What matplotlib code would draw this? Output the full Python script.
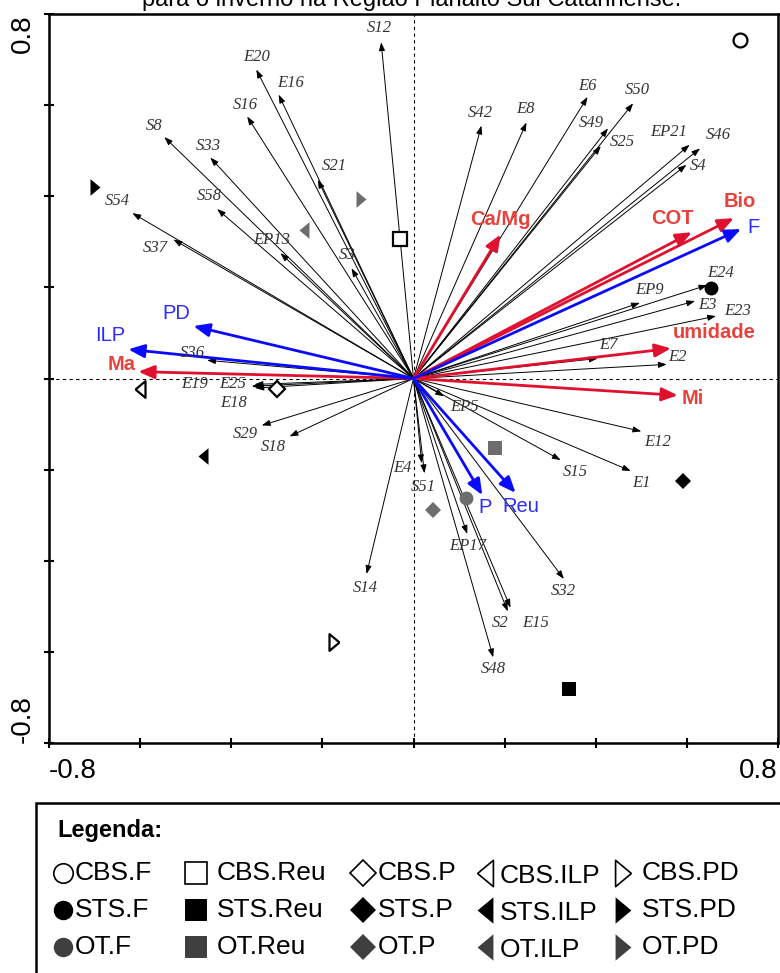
import numpy as np
import matplotlib.pyplot as plt
from matplotlib.patches import Rectangle

# species / response arrows (black)
species = ['S12', 'E20', 'E16', 'S16', 'S8', 'S33', 'S21', 'S58', 'S54', 'S37', 'EP13', 'S3', 'S36',
           'S42', 'E8', 'E6', 'S50', 'S49', 'S25', 'EP21', 'S46', 'S4', 'E24', 'EP9', 'E3', 'E23',
           'E7', 'E2', 'E19', 'E25', 'E18', 'S29', 'S18', 'E4', 'S51', 'S14', 'EP5', 'E12', 'S15',
           'E1', 'EP17', 'S32', 'S2', 'E15', 'S48']
species_x = [-0.071, -0.345, -0.296, -0.365, -0.547, -0.446, -0.210, -0.431, -0.617, -0.527, -0.292,
             -0.136, -0.453, 0.149, 0.248, 0.382, 0.482, 0.427, 0.411, 0.606, 0.629, 0.599, 0.645,
             0.497, 0.618, 0.664, 0.404, 0.556, -0.349, -0.355, -0.347, -0.333, -0.272, 0.018,
             0.024, -0.103, 0.067, 0.500, 0.323, 0.477, 0.118, 0.330, 0.207, 0.213, 0.175]
species_y = [0.738, 0.678, 0.623, 0.575, 0.530, 0.485, 0.436, 0.372, 0.363, 0.305, 0.275, 0.242,
             0.040, 0.555, 0.562, 0.618, 0.604, 0.549, 0.510, 0.513, 0.505, 0.469, 0.205, 0.166,
             0.170, 0.137, 0.044, 0.031, -0.013, -0.017, -0.021, -0.103, -0.127, -0.186, -0.208,
             -0.429, -0.039, -0.116, -0.179, -0.203, -0.341, -0.440, -0.511, -0.503, -0.612]

# soil variables (red)
soil = ['Ca/Mg', 'Bio', 'COT', 'umidade', 'Ma', 'Mi']
soil_x = [0.191, 0.703, 0.611, 0.565, -0.604, 0.580]
soil_y = [0.316, 0.352, 0.321, 0.066, 0.015, -0.037]

# land use systems (blue)
systems_env = ['F', 'PD', 'ILP', 'P', 'Reu']
systems_x = [0.719, -0.483, -0.626, 0.151, 0.224]
systems_y = [0.328, 0.115, 0.064, -0.256, -0.251]

# samples (treatment.system)
samples = ['CBS.F', 'STS.F', 'OT.F', 'CBS.Reu', 'STS.Reu', 'OT.Reu', 'CBS.P', 'STS.P', 'OT.P',
           'CBS.ILP', 'STS.ILP', 'OT.ILP', 'CBS.PD', 'STS.PD', 'OT.PD']
samples_x = [0.717, 0.654, 0.116, -0.029, 0.341, 0.178, -0.300, 0.591, 0.043,
             -0.600, -0.461, -0.241, -0.174, -0.699, -0.116]
samples_y = [0.742, 0.198, -0.262, 0.306, -0.681, -0.152, -0.022, -0.225, -0.288,
             -0.024, -0.169, 0.326, -0.579, 0.421, 0.394]

# label offsets in pixels (dx right, dy down) from arrow tip
label_off = {
    'S12': (-2, -14), 'E20': (0, -13), 'E16': (12, -12), 'S16': (-2, -12), 'S8': (-10, -11),
    'S33': (-2, -12), 'S21': (17, -14), 'S58': (-8, -13), 'S54': (-15, -12), 'S37': (-18, 8),
    'EP13': (-9, -13), 'S3': (-4, -13), 'S36': (-15, -7), 'S42': (-1, -13), 'E8': (-1, -13),
    'E6': (0, -11), 'S50': (4, -13), 'S49': (-17, -5), 'S25': (22, -4), 'EP21': (-21, -13),
    'S46': (18, -13), 'S4': (12, 1), 'E24': (13, -12), 'EP9': (10, -13), 'E3': (12, 4),
    'E23': (22, -5), 'E7': (11, -13), 'E2': (11, -7), 'E19': (-60, 0), 'E25': (-19, -2),
    'E18': (-22, 15), 'S29': (-16, 9), 'S18': (-16, 11), 'E4': (-19, 5), 'S51': (-1, 14),
    'S14': (-1, 14), 'EP5': (20, 11), 'E12': (16, 11), 'S15': (15, 12), 'E1': (11, 12),
    'EP17': (0, 12), 'S32': (0, 12), 'S2': (-8, 12), 'E15': (25, 15), 'S48': (0, 12),
    'Ca/Mg': (0, -15), 'Bio': (6, -17), 'COT': (-19, -14), 'umidade': (43, -16),
    'Ma': (-17, -7), 'Mi': (15, 3),
    'F': (12, -2), 'PD': (-17, -13), 'ILP': (-18, -14), 'P': (3, 12), 'Reu': (5, 14),
}

red_arrow = '#e0102f'
red_text = '#e8423c'
blue_arrow = '#0a0aff'
blue_text = '#2b2bff'
gray_plot = '#6d6d70'
gray_leg = '#3f3f3f'

# narrow triangles (closed paths so the open ones get a full outline)
narrow_left = [(-0.6, 0), (0.6, 1), (0.6, -1), (-0.6, 0)]
narrow_right = [(0.6, 0), (-0.6, 1), (-0.6, -1), (0.6, 0)]
sys_marker = {'F': ('o', 10), 'Reu': ('s', 10), 'P': ('D', 8), 'ILP': (narrow_left, 12), 'PD': (narrow_right, 12)}
sys_marker_leg = {'F': ('o', 14), 'Reu': ('s', 16), 'P': ('D', 13), 'ILP': (narrow_left, 19), 'PD': (narrow_right, 19)}

fig = plt.figure(figsize=(7.8, 9.73), dpi=100)
ax = fig.add_axes([49 / 780, 230 / 973, 729 / 780, 729 / 973])
ax.set_xlim(-0.8, 0.8)
ax.set_ylim(-0.8, 0.8)

ax.axhline(0, color='black', lw=0.8, ls=(0, (3, 3)), zorder=0)
ax.axvline(0, color='black', lw=0.8, ls=(0, (3, 3)), zorder=0)

# black arrows
for name, x, y in zip(species, species_x, species_y):
    ax.annotate('', xy=(x, y), xytext=(0, 0),
                arrowprops=dict(arrowstyle='-|>,head_length=0.5,head_width=0.18', mutation_scale=10,
                                lw=0.7, color='black', shrinkA=0, shrinkB=0), zorder=2)
    dx, dy = label_off[name]
    ax.annotate(name, xy=(x, y), xytext=(dx, -dy), textcoords='offset pixels',
                ha='center', va='center', fontsize=12, family='Liberation Serif',
                style='italic', color='#333333', zorder=4)

# red and blue arrows
for names, xs, ys, acol, tcol, weight in [(soil, soil_x, soil_y, red_arrow, red_text, 'bold'),
                                          (systems_env, systems_x, systems_y, blue_arrow, blue_text, 'normal')]:
    for name, x, y in zip(names, xs, ys):
        ax.annotate('', xy=(x, y), xytext=(0, 0),
                    arrowprops=dict(arrowstyle='-|>,head_length=0.6,head_width=0.25', mutation_scale=16,
                                    lw=2.0, color=acol, shrinkA=0, shrinkB=0), zorder=3)
        dx, dy = label_off[name]
        ax.annotate(name, xy=(x, y), xytext=(dx, -dy), textcoords='offset pixels',
                    ha='center', va='center', fontsize=14.5, family='Liberation Sans',
                    weight=weight, color=tcol, zorder=4)

# sample points
for name, x, y in zip(samples, samples_x, samples_y):
    treat, system = name.split('.')
    m, ms = sys_marker[system]
    if treat == 'CBS':
        fc, ec, mew = 'white', 'black', 1.6
    elif treat == 'STS':
        fc, ec, mew = 'black', 'black', 0
    else:
        fc, ec, mew = gray_plot, gray_plot, 0
    ax.plot(x, y, marker=m, ms=ms, mfc=fc, mec=ec, mew=mew, ls='none', zorder=5)

ticks = np.round(np.arange(-0.8, 0.81, 0.2), 1)
ax.set_xticks(ticks)
ax.set_yticks(ticks)
ax.set_xticklabels(['-0.8'] + [''] * 7 + ['0.8'], fontsize=20, family='Liberation Sans')
ax.set_yticklabels(['-0.8'] + [''] * 7 + ['0.8'], fontsize=20, family='Liberation Sans', rotation=90)
xl = ax.get_xticklabels()
xl[0].set_ha('left')
xl[-1].set_ha('right')
yl = ax.get_yticklabels()
yl[0].set_va('bottom')
yl[-1].set_va('top')
ax.tick_params(direction='inout', length=7, width=1.5, top=False, right=False)
ax.tick_params(axis='x', pad=7)
ax.tick_params(axis='y', pad=6)
for sp in ax.spines.values():
    sp.set_linewidth(1.8)

# title (cut off at the top in the original)
fig.text(412 / 780, 1 - 6 / 973, 'para o inverno na Região Planalto Sul Catarinense.',
         ha='center', va='baseline', fontsize=17, family='Liberation Sans')

# legend box
fig.add_artist(Rectangle((36 / 780, -0.05), 1.0, (973 - 803) / 973 + 0.05, transform=fig.transFigure,
                         fill=False, ec='black', lw=1.8, clip_on=False))
lax = fig.add_axes([0, 0, 1, 1])
lax.set_xlim(0, 780)
lax.set_ylim(973, 0)
lax.axis('off')
lax.patch.set_alpha(0)
lax.text(57, 831, 'Legenda:', fontsize=17, weight='bold', family='Liberation Sans', va='center')

leg_systems = ['F', 'Reu', 'P', 'ILP', 'PD']
leg_treats = ['CBS', 'STS', 'OT']
col_x = [63, 196, 363, 485, 623]
text_dx = [12, 21, 15, 15, 19]
text_dy = [0, 0, 0, 3, 0]
row_y = [873, 910, 947]
for ci, system in enumerate(leg_systems):
    m, ms = sys_marker_leg[system]
    for ri, treat in enumerate(leg_treats):
        if treat == 'CBS':
            fc, ec, mew = 'white', 'black', 1.2
        elif treat == 'STS':
            fc, ec, mew = 'black', 'black', 0
        else:
            fc, ec, mew = gray_leg, gray_leg, 0
        lax.plot(col_x[ci], row_y[ri], marker=m, ms=ms, mfc=fc, mec=ec, mew=mew, ls='none', clip_on=False)
        lax.text(col_x[ci] + text_dx[ci], row_y[ri] + text_dy[ci], treat + '.' + system,
                 fontsize=19, family='Liberation Sans', va='center', ha='left')

fig.savefig('out.png', dpi=100)
